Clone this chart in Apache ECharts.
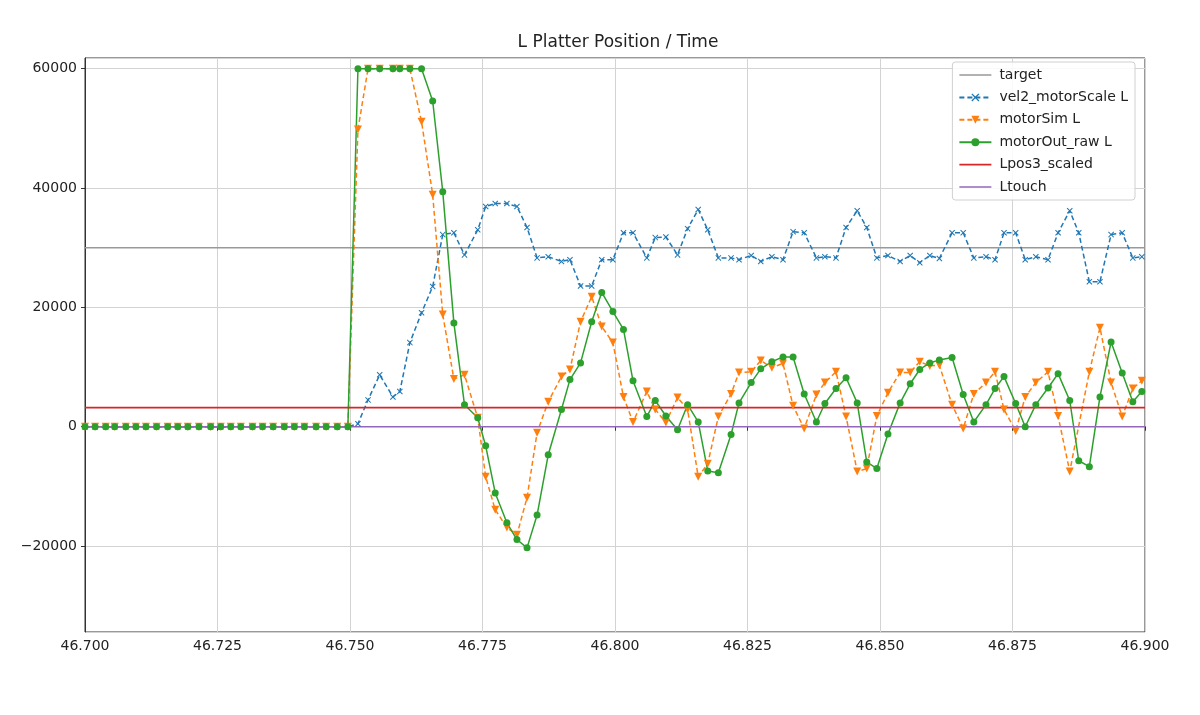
<!DOCTYPE html>
<html>
<head>
<meta charset="utf-8">
<script src="https://cdn.jsdelivr.net/npm/echarts@6/dist/echarts.min.js"></script>
<style>
html,body{margin:0;padding:0;background:#fff;}
#chart{width:1200px;height:715px;}
</style>
</head>
<body>
<div id="chart"></div>
<script>
// time stamps (s)
const time = [
  46.7000, 46.7019, 46.7039, 46.7056, 46.7077, 46.7096, 46.7115, 46.7135, 46.7156, 46.7175,
  46.7194, 46.7215, 46.7237, 46.7256, 46.7275, 46.7294, 46.7316, 46.7335, 46.7355, 46.7376,
  46.7395, 46.7414, 46.7436, 46.7455, 46.7476, 46.7496,
  46.7515, 46.7534, 46.7556, 46.7581, 46.7594, 46.7613, 46.7635, 46.7656, 46.7675, 46.7696,
  46.7716, 46.7741, 46.7756, 46.7774, 46.7796, 46.7815, 46.7834, 46.7853, 46.7874, 46.7899,
  46.7915, 46.7935, 46.7956, 46.7975, 46.7996, 46.8016, 46.8034, 46.8060, 46.8076, 46.8096,
  46.8118, 46.8137, 46.8157, 46.8175, 46.8195, 46.8219, 46.8234, 46.8257, 46.8275, 46.8296,
  46.8317, 46.8336, 46.8357, 46.8380, 46.8396, 46.8417, 46.8436, 46.8457, 46.8475, 46.8494,
  46.8515, 46.8538, 46.8557, 46.8575, 46.8594, 46.8612, 46.8636, 46.8657, 46.8677, 46.8700,
  46.8717, 46.8734, 46.8756, 46.8774, 46.8794, 46.8817, 46.8836, 46.8858, 46.8875, 46.8895,
  46.8915, 46.8936, 46.8957, 46.8977, 46.8994
];
// vel2_motorScale L
const velScale = [
  0, 0, 0, 0, 0, 0, 0, 0, 0, 0,
  0, 0, 0, 0, 0, 0, 0, 0, 0, 0,
  0, 0, 0, 0, 0, 0,
  500, 4500, 8700, 5000, 5900, 14100, 19100, 23500, 32200, 32500,
  28800, 33000, 36900, 37400, 37400, 36900, 33400, 28300, 28500, 27700,
  28000, 23600, 23600, 28000, 28000, 32500, 32500, 28300, 31700, 31800,
  28800, 33200, 36400, 33000, 28300, 28300, 28000, 28700, 27700, 28500,
  28000, 32700, 32500, 28300, 28500, 28300, 33400, 36200, 33400, 28300,
  28700, 27700, 28700, 27500, 28700, 28200, 32500, 32500, 28300, 28500,
  28000, 32500, 32500, 28000, 28500, 28000, 32500, 36200, 32500, 24300,
  24300, 32200, 32500, 28300, 28500
];
// motorSim L
const motorSim = [
  0, 0, 0, 0, 0, 0, 0, 0, 0, 0,
  0, 0, 0, 0, 0, 0, 0, 0, 0, 0,
  0, 0, 0, 0, 0, 0,
  49800, 60000, 60000, 60000, 60000, 60000, 51100, 38900, 18800, 8000,
  8700, 1500, -8400, -13900, -16900, -18100, -11900, -1000, 4200, 8400,
  9600, 17600, 21800, 16800, 14100, 5000, 800, 5900, 2900, 700,
  4900, 2900, -8400, -6200, 1700, 5500, 9100, 9200, 11100, 9900,
  10600, 3500, -300, 5400, 7400, 9200, 1700, -7500, -7000, 1800,
  5700, 9100, 9100, 10900, 10200, 10300, 3700, -300, 5500, 7400,
  9200, 2900, -700, 5000, 7400, 9200, 1800, -7500, null, 9200,
  16600, 7400, 1700, 6400, 7700
];
// motorOut_raw L
const motorOut = [
  0, 0, 0, 0, 0, 0, 0, 0, 0, 0,
  0, 0, 0, 0, 0, 0, 0, 0, 0, 0,
  0, 0, 0, 0, 0, 0,
  60000, 60000, 60000, 60000, 60000, 60000, 60000, 54600, 39400, 17400,
  3700, 1500, -3200, -11100, -16100, -18900, -20300, -14800, -4700, 2900,
  7900, 10700, 17600, 22500, 19300, 16300, 7700, 1700, 4400, 1800,
  -500, 3700, 800, -7400, -7700, -1300, 4000, 7400, 9700, 10900,
  11700, 11700, 5500, 800, 3900, 6400, 8200, 4000, -5900, -7000,
  -1200, 4000, 7200, 9600, 10700, 11200, 11600, 5400, 800, 3700,
  6400, 8400, 3900, 0, 3700, 6500, 8900, 4400, -5700, -6700,
  5000, 14200, 9000, 4200, 5900
];
// constant reference levels
const targetLevel = 30000;
const lpos3Level = 3200;
const ltouchLevel = 0;
const xRange = [46.700, 46.900];
const seriesNames = ['target', 'vel2_motorScale L', 'motorSim L', 'motorOut_raw L', 'Lpos3_scaled', 'Ltouch'];

const pair = arr => time.map((t, i) => [t, arr[i]]);
const flat = v => xRange.map(x => [x, v]);

const xSym = 'path://M0,1.2L1.2,0L5,3.8L8.8,0L10,1.2L6.2,5L10,8.8L8.8,10L5,6.2L1.2,10L0,8.8L3.8,5Z';
const lineIcon = 'path://M0,0L40,0L40,2L0,2Z';
const FONT = 'DejaVu Sans';
const minus = v => String(v).replace('-', '\u2212');

const chart = echarts.init(document.getElementById('chart'), null, {renderer: 'canvas'});
chart.setOption({
  animation: false,
  backgroundColor: '#fff',
  textStyle: {fontFamily: FONT},
  title: {
    text: 'L Platter Position / Time',
    left: 613, top: 29, textAlign: 'center',
    textStyle: {fontFamily: FONT, fontSize: 17, fontWeight: 'normal', color: '#222'}
  },
  grid: {left: 85, right: 55, top: 58, bottom: 83, show: true, borderColor: '#333', borderWidth: 1, containLabel: false},
  legend: {
    orient: 'vertical', right: 65, top: 62,
    data: [
      {name: seriesNames[0], icon: lineIcon},
      {name: seriesNames[1]},
      {name: seriesNames[2]},
      {name: seriesNames[3]},
      {name: seriesNames[4], icon: lineIcon},
      {name: seriesNames[5], icon: lineIcon}
    ],
    itemWidth: 32, itemHeight: 10, itemGap: 8.4,
    padding: [6, 7, 6, 6],
    borderColor: '#d0d0d0', borderWidth: 1, borderRadius: 3,
    backgroundColor: 'rgba(255,255,255,0.85)',
    textStyle: {fontFamily: FONT, fontSize: 14, color: '#222', padding: [0, 0, 0, 3]}
  },
  xAxis: {
    type: 'value', min: xRange[0], max: xRange[1], interval: 0.025,
    axisLine: {show: true, lineStyle: {color: '#333'}},
    axisTick: {show: true, length: 4, lineStyle: {color: '#333'}},
    axisLabel: {fontFamily: FONT, fontSize: 14, color: '#222', margin: 7, formatter: v => v.toFixed(3)},
    splitLine: {show: true, lineStyle: {color: '#d3d3d3', width: 1}}
  },
  yAxis: {
    type: 'value', min: -34400, max: 61800, splitNumber: 5,
    axisLine: {show: true, lineStyle: {color: '#333'}},
    axisTick: {show: true, length: 4, lineStyle: {color: '#333'}},
    axisLabel: {fontFamily: FONT, fontSize: 14, color: '#222', margin: 8, showMinLabel: false, showMaxLabel: false, formatter: v => minus(v)},
    splitLine: {show: true, lineStyle: {color: '#d3d3d3', width: 1}}
  },
  series: [
    {name: seriesNames[0], type: 'line', data: flat(targetLevel), symbol: 'none', color: '#999999', lineStyle: {width: 1.6, color: '#999999'}},
    {name: seriesNames[1], type: 'line', data: pair(velScale), symbol: xSym, symbolSize: 6, color: '#1f77b4',
      itemStyle: {color: '#1f77b4'}, lineStyle: {width: 1.5, type: [5, 3]}},
    {name: seriesNames[2], type: 'line', data: pair(motorSim), connectNulls: true, symbol: 'triangle', symbolRotate: 180, symbolSize: 8, color: '#ff7f0e',
      itemStyle: {color: '#ff7f0e'}, lineStyle: {width: 1.5, type: [5, 3]}},
    {name: seriesNames[3], type: 'line', data: pair(motorOut), symbol: 'circle', symbolSize: 7, color: '#2ca02c',
      itemStyle: {color: '#2ca02c'}, lineStyle: {width: 1.5}},
    {name: seriesNames[4], type: 'line', data: flat(lpos3Level), symbol: 'none', color: '#d62728', lineStyle: {width: 1.6, color: '#d62728'}},
    {name: seriesNames[5], type: 'line', data: flat(ltouchLevel), symbol: 'none', color: '#9467bd', lineStyle: {width: 1.6, color: '#9467bd'}}
  ]
});
</script>
</body>
</html>
